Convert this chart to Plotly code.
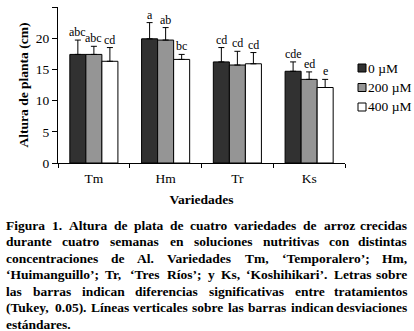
import plotly.graph_objects as go

categories = ["Tm", "Hm", "Tr", "Ks"]
series_names = ["0 µM", "200 µM", "400 µM"]
colors = ["#313131", "#959595", "#ffffff"]
values_0 = [17.4, 19.9, 16.2, 14.7]
values_200 = [17.4, 19.7, 15.7, 13.4]
values_400 = [16.3, 16.6, 15.9, 12.1]
sd_0 = [2.3, 2.6, 2.3, 1.5]
sd_200 = [1.3, 2.0, 2.2, 1.2]
sd_400 = [2.2, 0.8, 1.8, 1.3]
letters_0 = ["abc", "a", "cd", "cde"]
letters_200 = ["abc", "ab", "cd", "ed"]
letters_400 = ["cd", "bc", "cd", "e"]
y_ticks = [0, 5, 10, 15, 20, 25]

caption_lines = [
    "Figura 1. Altura de plata de cuatro variedades de arroz crecidas",
    "durante cuatro semanas en soluciones nutritivas con distintas",
    "concentraciones de Al. Variedades Tm, \u2018Temporalero\u2019; Hm,",
    "\u2018Huimanguillo\u2019; Tr, \u2018Tres Ríos\u2019; y Ks, \u2018Koshihikari\u2019. Letras sobre",
    "las barras indican diferencias significativas entre tratamientos",
    "(Tukey, 0.05). Líneas verticales sobre las barras indican desviaciones",
    "estándares.",
]

values = [values_0, values_200, values_400]
sds = [sd_0, sd_200, sd_400]
letters = [letters_0, letters_200, letters_400]

W, H = 414, 331
ML, MR, MT, MB = 58, 69, 7, 168
PW, PH = W - ML - MR, H - MT - MB
SERIF = "Liberation Serif, Times New Roman, serif"


def px2x(px):
    return (px - ML) / PW


def py2y(py):
    return (H - MB - py) / PH


fig = go.Figure()
for j in range(3):
    fig.add_trace(go.Bar(
        x=categories, y=values[j], name=series_names[j],
        marker=dict(color=colors[j], line=dict(color="black", width=1)),
        error_y=dict(type="data", symmetric=False, array=sds[j],
                     arrayminus=[0] * len(categories),
                     color="black", thickness=1, width=3),
        showlegend=False,
    ))

bargap = 0.33
bw = (1 - bargap) / 3
annotations = []
for j in range(3):
    for i in range(len(categories)):
        annotations.append(dict(
            x=i + (j - 1) * bw, y=values[j][i] + sds[j][i], xref="x", yref="y",
            text=letters[j][i], showarrow=False, yanchor="bottom", yshift=0,
            borderpad=0, font=dict(family=SERIF, size=12, color="black"),
        ))

# manual legend
shapes = []
for j in range(3):
    cy = 68 + j * 19.5
    shapes.append(dict(type="rect", xref="paper", yref="paper",
                       x0=px2x(358), x1=px2x(366), y0=py2y(cy + 4), y1=py2y(cy - 4),
                       fillcolor=colors[j], line=dict(color="black", width=1)))
    annotations.append(dict(x=px2x(367), y=py2y(cy), xref="paper", yref="paper",
                            text=series_names[j], showarrow=False, xanchor="left",
                            yanchor="middle", borderpad=0,
                            font=dict(family=SERIF, size=13.5, color="black")))

# caption with justified text (Times Bold metrics)
TB = {" ": 250, "(": 333, ")": 333, ",": 250, ".": 250, ";": 333, "\u2018": 333, "\u2019": 333,
      "í": 278, "á": 500}
for c, w in zip("0123456789", [500] * 10):
    TB[c] = w
for c, w in zip("ABCDEFGHIJKLMNOPQRSTUVWXYZ",
                [722, 667, 722, 722, 667, 611, 778, 778, 389, 500, 778, 667, 944, 722, 778, 611,
                 778, 722, 556, 667, 722, 722, 1000, 722, 722, 667]):
    TB[c] = w
for c, w in zip("abcdefghijklmnopqrstuvwxyz",
                [500, 556, 444, 556, 444, 333, 500, 556, 278, 333, 556, 278, 833, 556, 500, 556,
                 556, 444, 389, 333, 556, 500, 722, 500, 500, 444]):
    TB[c] = w

FS = 13.5
LEFT, RIGHT = 5, 408


def wwidth(s):
    return sum(TB.get(c, 500) for c in s) * FS / 1000


for li, line in enumerate(caption_lines):
    cy = 225 + li * 16.5
    words = line.split(" ")
    last = li == len(caption_lines) - 1
    if last:
        gap = TB[" "] * FS / 1000
    else:
        gap = (RIGHT - LEFT - sum(wwidth(w) for w in words)) / (len(words) - 1)
    x = LEFT
    for k, w in enumerate(words):
        if not last and k == len(words) - 1:
            annotations.append(dict(x=px2x(RIGHT), y=py2y(cy), xref="paper", yref="paper",
                                    text="<b>%s</b>" % w, showarrow=False, xanchor="right",
                                    yanchor="middle", borderpad=0,
                                    font=dict(family=SERIF, size=FS, color="black")))
        else:
            annotations.append(dict(x=px2x(x), y=py2y(cy), xref="paper", yref="paper",
                                    text="<b>%s</b>" % w, showarrow=False, xanchor="left",
                                    yanchor="middle", borderpad=0,
                                    font=dict(family=SERIF, size=FS, color="black")))
        x += wwidth(w) + gap

fig.update_layout(
    width=W, height=H,
    margin=dict(l=ML, r=MR, t=MT, b=MB, autoexpand=False),
    paper_bgcolor="white", plot_bgcolor="white",
    barmode="group", bargap=bargap, bargroupgap=0,
    font=dict(family=SERIF, size=13.5, color="black"),
    showlegend=False,
    annotations=annotations, shapes=shapes,
    xaxis=dict(
        type="category", showline=True, linecolor="black", linewidth=1,
        ticks="outside", ticklen=4, tickcolor="black", tickson="boundaries",
        showgrid=False, zeroline=False, ticklabelstandoff=3,
        tickfont=dict(family=SERIF, size=13.5),
        title=dict(text="<b>Variedades</b>", standoff=9,
                   font=dict(family=SERIF, size=13.5)),
    ),
    yaxis=dict(
        range=[0, 25], tickvals=y_ticks, showline=True, linecolor="black", linewidth=1,
        ticks="outside", ticklen=5, tickcolor="black", showgrid=False, zeroline=False,
        tickfont=dict(family=SERIF, size=13.5),
        title=dict(text="<b>Altura de planta (cm)</b>", standoff=4,
                   font=dict(family=SERIF, size=13.5)),
    ),
)

fig.write_html("out.html", config={"displayModeBar": False},
               post_script="document.body.style.margin='0';document.body.style.overflow='hidden';")
